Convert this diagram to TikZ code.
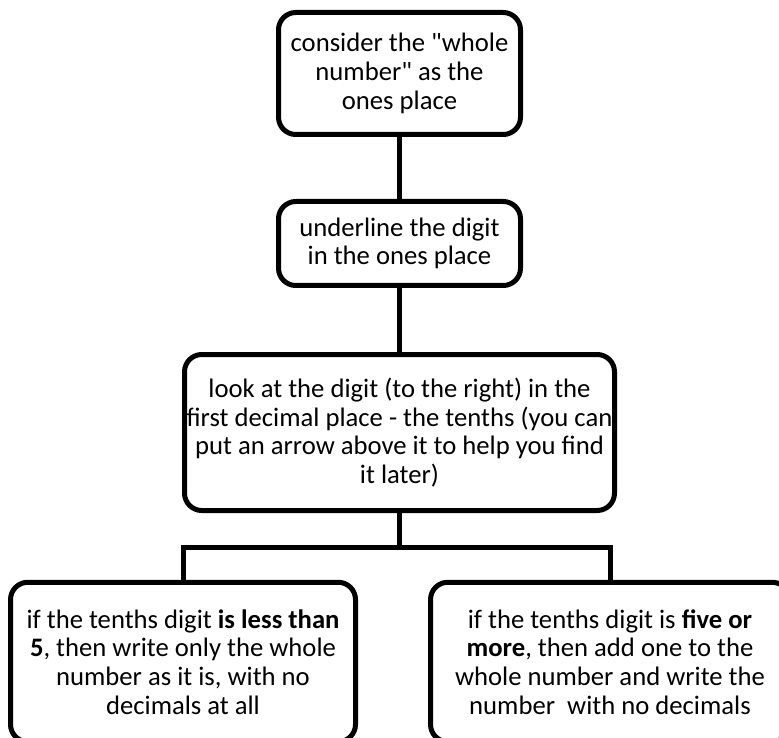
\documentclass[tikz,border=0pt]{standalone}
\usepackage{fontspec}
\setmainfont{Carlito}
\begin{document}
\begin{tikzpicture}[x=0.75pt,y=-0.75pt,
  box/.style={draw=black,line width=3.75pt,rounded corners=13pt,fill=white,
    align=center,inner sep=0pt,font=\fontsize{20pt}{21.5pt}\selectfont},
  link/.style={draw=black,line width=3.75pt}]
\useasboundingbox (0,0) rectangle (779,738);
\clip (0,0) rectangle (779,738);
\node[box,minimum width=181.5pt,minimum height=91.5pt] (b1) at (399.5,73.5)
  {consider the \textquotedbl whole\\number\textquotedbl\ as the\\ones place};
\node[box,minimum width=181.5pt,minimum height=63pt] (b2) at (399.5,243.5)
  {underline the digit\\in the ones place};
\node[box,minimum width=322.5pt,minimum height=117pt] (b3) at (399.5,432.5)
  {look at the digit (to the right) in the\\first decimal place - the tenths (you can\\put an arrow above it to help you find\\it later)};
\node[box,minimum width=258.75pt,minimum height=119.6pt] (b4) at (183,662)
  {if the tenths digit \textbf{is less than}\\\textbf{5}, then write only the whole\\number as it is, with no\\decimals at all};
\node[box,minimum width=269.25pt,minimum height=119.6pt] (b5) at (610,662)
  {if the tenths digit is \textbf{five or}\\\textbf{more}, then add one to the\\whole number and write the\\number\ \ with no decimals};
\coordinate (bar) at (399.5,547);
\draw[link] (b1.south) -- (b2.north);
\draw[link] (b2.south) -- (b3.north);
\draw[link] (b3.south) -- (bar);
\draw[link] (b4.north) |- (bar) -| (b5.north);
\end{tikzpicture}
\end{document}
